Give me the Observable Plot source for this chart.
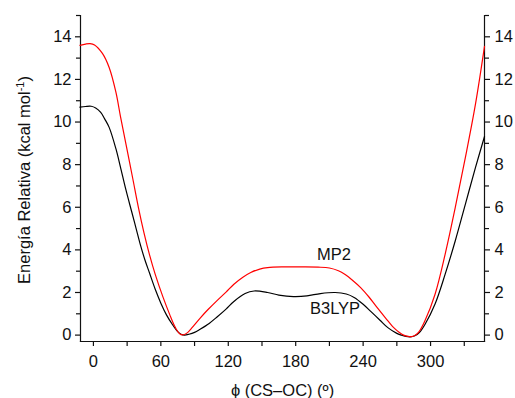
<!DOCTYPE html>
<html><head><meta charset="utf-8">
<script src="https://cdn.jsdelivr.net/npm/d3@7"></script>
<script src="https://cdn.jsdelivr.net/npm/@observablehq/plot@0.6"></script>
<style>
body{margin:0;background:#fff}
svg{font-family:"Liberation Sans",Arial,sans-serif}
</style>
</head><body><div id="chart"></div>
<script>
// B3LYP (black)
const phiB3LYP = [-12,-7,-2,2,6.5,10,14,20,24,29,34,38,42,46,50,55,60,65,70,75,78,81,85,90,95,103,110,118,125,135,143,155,165,178,190,202,215,225,232,240,247,255,262,270,274,278,282,286,290,295,304,313,322,331,340,348];
const eB3LYP   = [10.70,10.73,10.74,10.66,10.45,10.15,9.75,8.75,7.90,6.80,5.80,5.00,4.20,3.50,2.90,2.15,1.50,0.95,0.52,0.16,0.04,0.00,0.04,0.13,0.28,0.55,0.85,1.22,1.58,1.95,2.07,2.00,1.88,1.81,1.84,1.95,2.00,1.93,1.77,1.45,1.10,0.70,0.35,0.08,0.00,-0.06,-0.08,-0.03,0.12,0.50,1.46,2.86,4.43,6.15,7.87,9.32];
// MP2 (red)
const phiMP2 = [-12,-7,-3,1,8,14,20,24,29,35,40,45,50,55,62,68,72,75,77,79,81,84,88,95,102,110,118,125,133,140,148,155,170,185,200,210,218,224,231,238,245,252,260,267,272,276,280,283,286,290,295,304,313,322,331,340,348];
const eMP2   = [13.60,13.66,13.68,13.62,13.22,12.56,11.40,10.28,8.95,7.35,6.00,4.80,3.75,2.85,1.77,0.95,0.45,0.17,0.05,0.01,0.03,0.13,0.36,0.80,1.20,1.62,2.02,2.39,2.72,2.94,3.10,3.17,3.20,3.20,3.19,3.15,3.02,2.84,2.55,2.22,1.80,1.32,0.80,0.36,0.13,0.00,-0.06,-0.07,-0.02,0.18,0.67,1.92,3.80,5.99,8.34,10.85,13.55];

const xMajor = [0,60,120,180,240,300];
const xMinor = [30,90,150,210,270,330];
const yMajor = [0,2,4,6,8,10,12,14];
const yMinor = [1,3,5,7,9,11,13,15];
const xDomain = [-11.5, 348];
const yDomain = [-0.3, 15];

const labelText = ["MP2","B3LYP"];
const labelPhi  = [214, 215];
const labelE    = [3.78, 1.26];

const xTitle = "ϕ (CS–OC) (º)";
const yTitle = "Energía Relativa (kcal mol";
const yTitleSup = "-1";
const yTitleEnd = ")";

const rows = [
  ...phiB3LYP.map((p,i)=>({phi:p, e:eB3LYP[i], s:"B3LYP"})),
  ...phiMP2.map((p,i)=>({phi:p, e:eMP2[i], s:"MP2"}))
];
const labels = labelText.map((t,i)=>({t, phi:labelPhi[i], e:labelE[i]}));

const axisStyle = {stroke:"#111", strokeWidth:1.2};
const fs = 16.5;

const svg = Plot.plot({
  width: 515, height: 398,
  marginLeft: 80, marginRight: 31, marginTop: 15, marginBottom: 57,
  style: {fontSize: fs + "px", fontFamily:"'Liberation Sans', Arial, sans-serif", color:"#111", background:"#fff", overflow:"visible"},
  x: {domain: xDomain},
  y: {domain: yDomain},
  color: {domain:["B3LYP","MP2"], range:["#000000","#ff0000"]},
  marks: [
    Plot.axisX({ticks: xMajor, tickSize:5, tickPadding:9, label: xTitle, labelAnchor:"center", labelOffset:54, labelArrow:"none", strokeWidth:1.2}),
    Plot.axisX({ticks: xMinor, tickSize:5, tickFormat: () => "", label:null, strokeWidth:1.2}),
    Plot.axisY({anchor:"left", ticks: yMajor, tickSize:5, tickPadding:4, label:null, strokeWidth:1.2}),
    Plot.axisY({anchor:"left", ticks: yMinor, tickSize:4, tickFormat: () => "", label:null, strokeWidth:1.2}),
    Plot.axisY({anchor:"right", ticks: yMajor, tickSize:5, tickPadding:5, label:null, strokeWidth:1.2}),
    Plot.axisY({anchor:"right", ticks: yMinor, tickSize:4, tickFormat: () => "", label:null, strokeWidth:1.2}),
    Plot.frame({anchor:"left", ...axisStyle}),
    Plot.frame({anchor:"right", ...axisStyle}),
    Plot.frame({anchor:"bottom", ...axisStyle}),
    Plot.line(rows, {x:"phi", y:"e", z:"s", stroke:"s", strokeWidth:1.2, curve:"catmull-rom"}),
    Plot.text(labels, {x:"phi", y:"e", text:"t", textAnchor:"middle", fill:"#111", fontSize:fs})
  ]
});

const t = d3.select(svg).append("text")
  .attr("transform","translate(30,180) rotate(-90)")
  .attr("text-anchor","middle")
  .attr("fill","#111")
  .style("font-size", fs + "px");
t.append("tspan").text(yTitle);
t.append("tspan").attr("baseline-shift","super").style("font-size","11px").text(yTitleSup);
t.append("tspan").text(yTitleEnd);

document.getElementById("chart").appendChild(svg);
</script>
</body></html>
